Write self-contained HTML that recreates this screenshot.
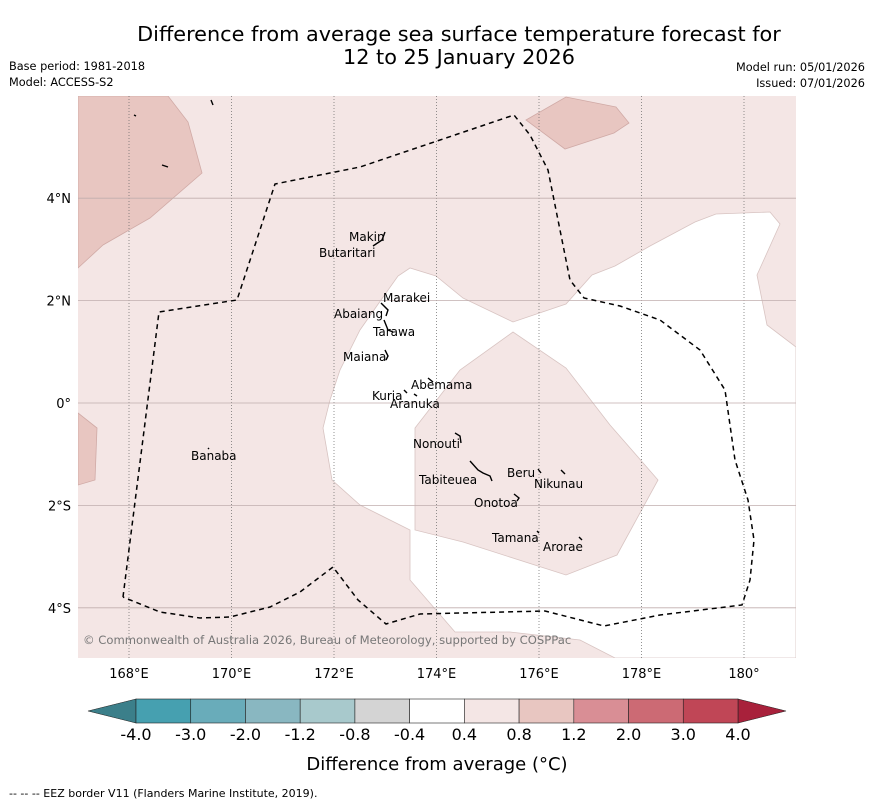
<!DOCTYPE html>
<html><head><meta charset="utf-8"><style>
body{margin:0;background:#fff;width:873px;height:804px;overflow:hidden;font-family:"Liberation Sans","DejaVu Sans",sans-serif}
svg text{font-family:"DejaVu Sans","Liberation Sans",sans-serif}
</style></head><body>
<svg id="chart" width="873" height="804">
<text x="459" y="41" font-size="20.8" text-anchor="middle">Difference from average sea surface temperature forecast for</text>
<text x="459" y="64" font-size="20.8" text-anchor="middle">12 to 25 January 2026</text>
<text x="9" y="70" font-size="11.3">Base period: 1981-2018</text>
<text x="9" y="86" font-size="11.3">Model: ACCESS-S2</text>
<text x="865" y="71" font-size="11.3" text-anchor="end">Model run: 05/01/2026</text>
<text x="865" y="87" font-size="11.3" text-anchor="end">Issued: 07/01/2026</text>
<defs><clipPath id="mc"><rect x="78" y="96" width="718" height="562"/></clipPath></defs>
<g id="map" clip-path="url(#mc)">
<rect x="78" y="96" width="718" height="562" fill="#f4e6e5"/>
<path fill="#ffffff" stroke="#d8c4c2" stroke-width="0.8" fill-rule="evenodd" d="M323,428 L332,480 L360,505 L410,530 L410,580 L455,632 L510,632 L580,640 L615,658 L796,658 L796,347 L767,325 L757,275 L780,224 L770,212 L716,214 L695,222 L650,246 L615,266 L592,275 L566,304 L513,322 L463,298 L436,276 L410,268 L398,276 L381,300 L360,330 L340,370 L330,400 Z M415,428 L460,370 L513,332 L566,368 L610,425 L658,480 L617,555 L566,575 L463,542 L415,530 Z"/>
<path fill="#e8c6c1" stroke="#d0aaa6" stroke-width="0.8" d="M78,96 L168,96 L188,122 L202,173 L150,218 L103,245 L78,268 Z"/>
<path fill="#e8c6c1" stroke="#d0aaa6" stroke-width="0.8" d="M526,120 L566,97 L616,107 L629,123 L614,133 L565,149 Z"/>
<path fill="#e8c6c1" stroke="#d0aaa6" stroke-width="0.8" d="M78,413 L97,428 L95,480 L78,485 Z"/>
<g id="grid"></g>
<path fill="none" stroke="#000" stroke-width="1.5" stroke-dasharray="5,4" d="M123,597 L159,312 L237,300 L275,184 L360,167 L440,140 L514,115 L530,135 L548,170 L570,280 L584,298 L620,306 L660,320 L700,350 L725,390 L735,460 L748,500 L754,540 L750,580 L742,605 L660,615 L604,626 L545,611 L420,614 L386,624 L358,600 L333,567 L300,592 L270,607 L230,617 L200,618 L160,612 L123,597"/>
<g stroke="#000" stroke-width="1.4" fill="none">
<path d="M373,246 L382,240 L385,232"/><path d="M381,303 L388,310 L386,316"/><path d="M384,320 L388,330 L393,332"/><path d="M385,350 L388,356 L386,360"/><path d="M428,378 L433,382"/><path d="M404,390 L407,393"/><path d="M414,394 L417,396"/><path d="M455,433 L460,436 L461,443"/><path d="M470,461 L478,470 L483,473 L490,476 L492,481"/><path d="M538,469 L541,473"/><path d="M561,470 L565,474"/><path d="M514,494 L519,498 L517,501"/><path d="M537,531 L539,533"/><path d="M579,537 L582,540"/><path d="M208,448 L209,449"/><path d="M211,100 L213,105"/><path d="M162,165 L168,167"/><path d="M134,115 L136,116"/>
</g>
<g font-size="12" fill="#000">
<text x="349" y="241">Makin</text><text x="319" y="257">Butaritari</text><text x="383" y="302">Marakei</text><text x="334" y="318">Abaiang</text><text x="373" y="336">Tarawa</text><text x="343" y="361">Maiana</text><text x="411" y="389">Abemama</text><text x="372" y="400">Kuria</text><text x="390" y="408">Aranuka</text><text x="413" y="448">Nonouti</text><text x="419" y="484">Tabiteuea</text><text x="507" y="477">Beru</text><text x="534" y="488">Nikunau</text><text x="474" y="507">Onotoa</text><text x="492" y="542">Tamana</text><text x="543" y="551">Arorae</text><text x="191" y="460">Banaba</text>
</g>
<text x="83" y="644" font-size="11.6" fill="#777">© Commonwealth of Australia 2026, Bureau of Meteorology, supported by COSPPac</text>
</g>
<g id="axes"></g>
<g id="cbar"></g>
<text x="437" y="770" font-size="18" text-anchor="middle">Difference from average (°C)</text>
<text x="9" y="797" font-size="11">--  --  -- EEZ border V11 (Flanders Marine Institute, 2019).</text>
</svg>
<script>
const lonTicks=[168,170,172,174,176,178,180];
const lonLabels=["168°E","170°E","172°E","174°E","176°E","178°E","180°"];
const latTicks=[4,2,0,-2,-4];
const latLabels=["4°N","2°N","0°","2°S","4°S"];
const cbarBounds=["-4.0","-3.0","-2.0","-1.2","-0.8","-0.4","0.4","0.8","1.2","2.0","3.0","4.0"];
const cbarColors=["#46a0b0","#69acba","#89b7c1","#a8c9cc","#d4d4d4","#ffffff","#f4e6e5","#e8c6c1","#d98e95","#cc6a74","#c04656"];
const NS="http://www.w3.org/2000/svg";
const x=lon=>129+(lon-168)*51.25;
const y=lat=>403-lat*51.2;
function mk(t,a,p){const e=document.createElementNS(NS,t);for(const k in a)e.setAttribute(k,a[k]);p.appendChild(e);return e;}
const grid=document.getElementById('grid'),axes=document.getElementById('axes');
lonTicks.forEach((v,i)=>{
 const l=mk('line',{x1:x(v),x2:x(v),y1:96,y2:658,stroke:'#666','stroke-width':0.7,'stroke-dasharray':'1,2'},grid);
 
 
 const t=mk('text',{x:x(v),y:678,'font-size':13,'text-anchor':'middle'},axes);t.textContent=lonLabels[i];
 
 
});
latTicks.forEach((v,i)=>{
 const l=mk('line',{x1:78,x2:796,y1:y(v),y2:y(v),stroke:'#c0aeae','stroke-width':0.8},grid);
 
 
 const t=mk('text',{x:71,y:y(v)+5,'font-size':13,'text-anchor':'end'},axes);t.textContent=latLabels[i];
 
 
});
const cb=document.getElementById('cbar');
const c0=136,c1=738,cy=699,ch=24,n=cbarColors.length,w=(c1-c0)/n;
const lt=mk('path',{d:`M${c0},${cy} L88,${cy+ch/2} L${c0},${cy+ch} Z`,fill:'#3b7f8a',stroke:'#222','stroke-width':0.6},cb);


const rt=mk('path',{d:`M${c1},${cy} L786,${cy+ch/2} L${c1},${cy+ch} Z`,fill:'#a8213b',stroke:'#222','stroke-width':0.6},cb);


cbarColors.forEach((c,i)=>{
 const r=mk('rect',{x:c0+i*w,y:cy,width:w,height:ch,fill:c,stroke:'#222','stroke-width':0.6},cb);
 
 
});
cbarBounds.forEach((b,i)=>{
 const t=mk('text',{x:c0+i*w,y:740,'font-size':16,'text-anchor':'middle'},cb);t.textContent=b;
 
 
});
</script>
</body></html>
